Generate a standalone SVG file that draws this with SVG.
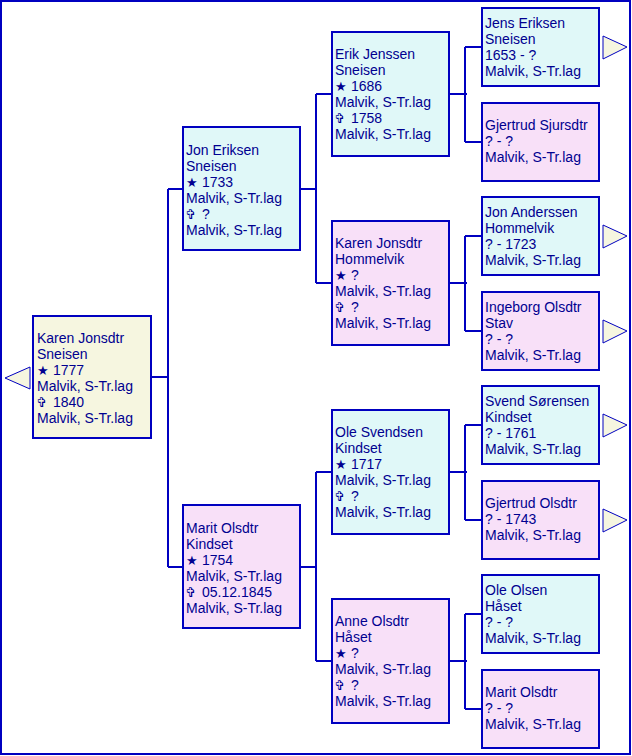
<svg xmlns="http://www.w3.org/2000/svg" width="632" height="756" viewBox="0 0 632 756">
<style>
text{font-family:"Liberation Sans","DejaVu Sans",sans-serif;font-size:14px;fill:#000090}
.s{font-family:"DejaVu Sans",sans-serif;font-size:13px}
.box{stroke:#0000C0;stroke-width:2}
.root{fill:#F6F6E0}
.m{fill:#E0F8F8}
.f{fill:#F8E0F8}
.tri{fill:#F6F6E0;stroke:#0000C0;stroke-width:1}
.con{fill:none;stroke:#0000C0;stroke-width:2}
</style>
<rect x="1" y="1" width="629" height="753" fill="#FFFFFF" stroke="#0000C0" stroke-width="2"/>
<g id="connectors" class="con">
<path d="M151 377H168M168 189V567M168 189H183M168 567H183"/>
<path d="M300 189H316M316 94V283M316 94H332M316 283H332"/>
<path d="M300 567H316M316 472V661M316 472H332M316 661H332"/>
<path d="M449 94H467M465 47V142M465 47H482M465 142H482"/>
<path d="M449 283H467M465 236V331M465 236H482M465 331H482"/>
<path d="M449 472H467M465 425V520M465 425H482M465 520H482"/>
<path d="M449 661H467M465 614V709M465 614H482M465 709H482"/>
</g>
<g id="root">
<polygon class="tri" points="5,378 30,367 30,389"/>
<rect class="box root" x="33" y="316" width="118" height="122"/>
<text x="37" y="343">Karen Jonsdtr</text>
<text x="37" y="359">Sneisen</text>
<text y="375"><tspan class="s" x="37">★</tspan><tspan x="53">1777</tspan></text>
<text x="37" y="391">Malvik, S-Tr.lag</text>
<text y="407"><tspan class="s" x="36">✞</tspan><tspan x="53">1840</tspan></text>
<text x="37" y="423">Malvik, S-Tr.lag</text>
</g>
<g id="jon-eriksen">
<rect class="box m" x="183" y="127" width="117" height="123"/>
<text x="186" y="155">Jon Eriksen</text>
<text x="186" y="171">Sneisen</text>
<text y="187"><tspan class="s" x="186">★</tspan><tspan x="202">1733</tspan></text>
<text x="186" y="203">Malvik, S-Tr.lag</text>
<text y="219"><tspan class="s" x="185">✞</tspan><tspan x="202">?</tspan></text>
<text x="186" y="235">Malvik, S-Tr.lag</text>
</g>
<g id="marit-olsdtr-kindset">
<rect class="box f" x="183" y="505" width="117" height="123"/>
<text x="186" y="533">Marit Olsdtr</text>
<text x="186" y="549">Kindset</text>
<text y="565"><tspan class="s" x="186">★</tspan><tspan x="202">1754</tspan></text>
<text x="186" y="581">Malvik, S-Tr.lag</text>
<text y="597"><tspan class="s" x="185">✞</tspan><tspan x="202">05.12.1845</tspan></text>
<text x="186" y="613">Malvik, S-Tr.lag</text>
</g>
<g id="erik-jenssen">
<rect class="box m" x="332" y="32" width="117" height="124"/>
<text x="335" y="59">Erik Jenssen</text>
<text x="335" y="75">Sneisen</text>
<text y="91"><tspan class="s" x="335">★</tspan><tspan x="351">1686</tspan></text>
<text x="335" y="107">Malvik, S-Tr.lag</text>
<text y="123"><tspan class="s" x="334">✞</tspan><tspan x="351">1758</tspan></text>
<text x="335" y="139">Malvik, S-Tr.lag</text>
</g>
<g id="karen-jonsdtr-hommelvik">
<rect class="box f" x="332" y="221" width="117" height="124"/>
<text x="335" y="248">Karen Jonsdtr</text>
<text x="335" y="264">Hommelvik</text>
<text y="280"><tspan class="s" x="335">★</tspan><tspan x="351">?</tspan></text>
<text x="335" y="296">Malvik, S-Tr.lag</text>
<text y="312"><tspan class="s" x="334">✞</tspan><tspan x="351">?</tspan></text>
<text x="335" y="328">Malvik, S-Tr.lag</text>
</g>
<g id="ole-svendsen">
<rect class="box m" x="332" y="410" width="117" height="124"/>
<text x="335" y="437">Ole Svendsen</text>
<text x="335" y="453">Kindset</text>
<text y="469"><tspan class="s" x="335">★</tspan><tspan x="351">1717</tspan></text>
<text x="335" y="485">Malvik, S-Tr.lag</text>
<text y="501"><tspan class="s" x="334">✞</tspan><tspan x="351">?</tspan></text>
<text x="335" y="517">Malvik, S-Tr.lag</text>
</g>
<g id="anne-olsdtr">
<rect class="box f" x="332" y="599" width="117" height="124"/>
<text x="335" y="626">Anne Olsdtr</text>
<text x="335" y="642">Håset</text>
<text y="658"><tspan class="s" x="335">★</tspan><tspan x="351">?</tspan></text>
<text x="335" y="674">Malvik, S-Tr.lag</text>
<text y="690"><tspan class="s" x="334">✞</tspan><tspan x="351">?</tspan></text>
<text x="335" y="706">Malvik, S-Tr.lag</text>
</g>
<g id="jens-eriksen">
<rect class="box m" x="482" y="8" width="117" height="78"/>
<text x="485" y="28">Jens Eriksen</text>
<text x="485" y="44">Sneisen</text>
<text x="485" y="60">1653 - ?</text>
<text x="485" y="76">Malvik, S-Tr.lag</text>
<polygon class="tri" points="603,36 603,59 627,47"/>
</g>
<g id="gjertrud-sjursdtr">
<rect class="box f" x="482" y="103" width="117" height="78"/>
<text x="485" y="130">Gjertrud Sjursdtr</text>
<text x="485" y="146">? - ?</text>
<text x="485" y="162">Malvik, S-Tr.lag</text>
</g>
<g id="jon-anderssen">
<rect class="box m" x="482" y="197" width="117" height="78"/>
<text x="485" y="217">Jon Anderssen</text>
<text x="485" y="233">Hommelvik</text>
<text x="485" y="249">? - 1723</text>
<text x="485" y="265">Malvik, S-Tr.lag</text>
<polygon class="tri" points="603,225 603,248 627,236"/>
</g>
<g id="ingeborg-olsdtr">
<rect class="box f" x="482" y="292" width="117" height="78"/>
<text x="485" y="312">Ingeborg Olsdtr</text>
<text x="485" y="328">Stav</text>
<text x="485" y="344">? - ?</text>
<text x="485" y="360">Malvik, S-Tr.lag</text>
<polygon class="tri" points="603,320 603,343 627,331"/>
</g>
<g id="svend-sorensen">
<rect class="box m" x="482" y="386" width="117" height="78"/>
<text x="485" y="406">Svend Sørensen</text>
<text x="485" y="422">Kindset</text>
<text x="485" y="438">? - 1761</text>
<text x="485" y="454">Malvik, S-Tr.lag</text>
<polygon class="tri" points="603,414 603,437 627,425"/>
</g>
<g id="gjertrud-olsdtr">
<rect class="box f" x="482" y="481" width="117" height="78"/>
<text x="485" y="508">Gjertrud Olsdtr</text>
<text x="485" y="524">? - 1743</text>
<text x="485" y="540">Malvik, S-Tr.lag</text>
<polygon class="tri" points="603,509 603,532 627,520"/>
</g>
<g id="ole-olsen">
<rect class="box m" x="482" y="575" width="117" height="78"/>
<text x="485" y="595">Ole Olsen</text>
<text x="485" y="611">Håset</text>
<text x="485" y="627">? - ?</text>
<text x="485" y="643">Malvik, S-Tr.lag</text>
</g>
<g id="marit-olsdtr">
<rect class="box f" x="482" y="670" width="117" height="78"/>
<text x="485" y="697">Marit Olsdtr</text>
<text x="485" y="713">? - ?</text>
<text x="485" y="729">Malvik, S-Tr.lag</text>
</g>
</svg>
